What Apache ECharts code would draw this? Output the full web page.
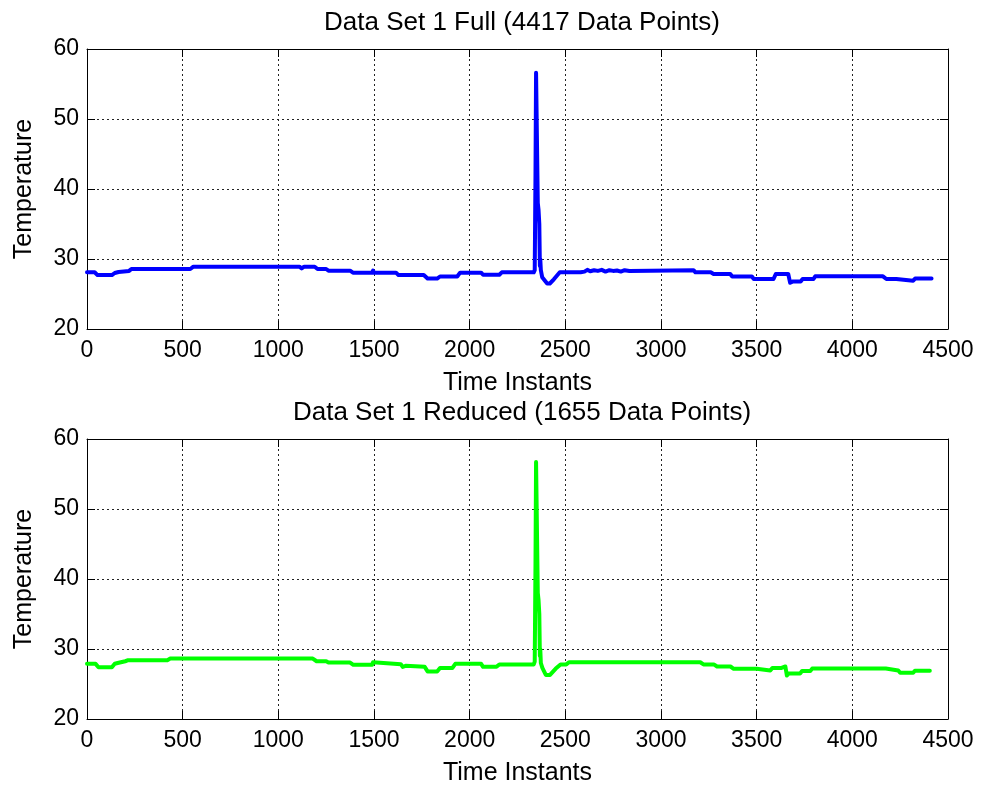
<!DOCTYPE html>
<html>
<head>
<meta charset="utf-8">
<script src="https://cdn.jsdelivr.net/npm/echarts@6/dist/echarts.min.js"></script>
<style>
  html, body { margin: 0; padding: 0; background: #fff; }
  #chart { width: 982px; height: 794px; }
</style>
</head>
<body>
<div id="chart"></div>
<script>
// Full record: time instant and temperature reading
const fullTime = [
  0, 40, 55, 130, 145, 165, 220, 232, 540, 556, 1110, 1122, 1135, 1190, 1205, 1250, 1262, 1375,
  1390, 1490, 1495, 1500, 1615, 1628, 1760, 1780, 1830, 1845, 1935, 1950, 2060, 2070, 2155, 2168,
  2335, 2340, 2344, 2347, 2352, 2356, 2360, 2364, 2367, 2369, 2372, 2379, 2405, 2419, 2440, 2471,
  2580, 2585, 2600, 2615, 2630, 2650, 2670, 2690, 2710, 2730, 2750, 2770, 2790, 2810, 2835, 2845,
  3170, 3180, 3260, 3275, 3362, 3372, 3475, 3485, 3588, 3600, 3665, 3675, 3690, 3730, 3740, 3797,
  3806, 4160, 4178, 4230, 4240, 4318, 4328, 4414
];
const fullTemp = [
  28.1, 28.1, 27.7, 27.7, 28.0, 28.15, 28.3, 28.57, 28.57, 28.9, 28.9, 28.65, 28.9, 28.9, 28.57, 28.57, 28.33, 28.33,
  28.05, 28.05, 28.35, 28.05, 28.05, 27.7, 27.7, 27.2, 27.2, 27.5, 27.5, 28.05, 28.05, 27.75, 27.75, 28.1,
  28.1, 28.4, 42.0, 56.6, 56.6, 38.0, 37.0, 35.0, 29.0, 30.0, 28.4, 27.4, 26.5, 26.5, 27.1, 28.1,
  28.1, 28.35, 28.2, 28.45, 28.25, 28.4, 28.3, 28.45, 28.2, 28.4, 28.3, 28.35, 28.2, 28.4, 28.3, 28.4,
  28.4, 28.1, 28.1, 27.86, 27.86, 27.5, 27.5, 27.14, 27.14, 27.86, 27.86, 26.6, 26.8, 26.8, 27.14, 27.14,
  27.52, 27.52, 27.14, 27.14, 26.9, 26.9, 27.2, 27.2
];

// Reduced record: time instant and temperature reading
const reducedTime = [
  0, 45, 60, 130, 145, 160, 200, 215, 420, 435, 1180, 1200, 1250, 1262, 1375, 1392, 1490, 1495,
  1505, 1640, 1650, 1665, 1675, 1765, 1780, 1830, 1845, 1910, 1925, 2060, 2070, 2140, 2155,
  2335, 2340, 2344, 2347, 2352, 2356, 2360, 2364, 2367, 2369, 2372, 2380, 2398, 2420, 2450, 2475,
  2505, 2519, 3205, 3222, 3276, 3293, 3363, 3380, 3500, 3510, 3571, 3582, 3630, 3640, 3650, 3658,
  3667, 3727, 3737, 3780, 3790, 4175, 4182, 4240, 4250, 4318, 4327, 4405
];
const reducedTemp = [
  27.88, 27.88, 27.4, 27.4, 27.9, 28.0, 28.25, 28.4, 28.4, 28.63, 28.63, 28.25, 28.25, 28.07, 28.07, 27.74, 27.74, 28.1,
  27.83, 27.83, 27.45, 27.6, 27.45, 27.45, 26.8, 26.8, 27.3, 27.3, 27.88, 27.88, 27.45, 27.45, 27.8,
  27.8, 28.2, 42.0, 56.7, 56.7, 38.0, 37.0, 35.0, 29.0, 30.0, 28.0, 27.3, 26.3, 26.3, 27.2, 27.8,
  27.8, 28.1, 28.1, 27.8, 27.8, 27.5, 27.5, 27.17, 27.17, 26.93, 26.93, 27.3, 27.3, 27.5, 27.5, 26.2,
  26.5, 26.5, 26.84, 26.84, 27.2, 27.2, 26.93, 26.93, 26.6, 26.6, 26.9, 26.9
];

// Axis ranges and tick spacing
const xRange = { min: 0, max: 4500, step: 500 };
const yRange = { min: 20, max: 60, step: 10 };

const titles = ['Data Set 1 Full (4417 Data Points)', 'Data Set 1 Reduced (1655 Data Points)'];
const xLabel = 'Time Instants';
const yLabel = 'Temperature';

const FONT = '"Liberation Sans", Arial, Helvetica, sans-serif';
const gridTops = [49, 439];

function pair(xs, ys) {
  return xs.map((x, i) => [x, ys[i]]);
}

const plain = v => String(v);
const frameLine = { show: true, onZero: false, lineStyle: { color: '#000', width: 1 } };
const inTick = { show: true, inside: true, length: 8, lineStyle: { color: '#000', width: 1 } };
const gridDash = { show: true, lineStyle: { color: '#222', width: 1, type: [2, 3] } };

const xAxes = [];
const yAxes = [];
[0, 1].forEach(g => {
  xAxes.push({
    type: 'value', gridIndex: g, position: 'bottom',
    min: xRange.min, max: xRange.max, interval: xRange.step,
    axisLine: frameLine, axisTick: inTick, splitLine: gridDash,
    axisLabel: { color: '#000', fontSize: 23, fontFamily: FONT, margin: 10, formatter: plain },
    name: xLabel, nameLocation: 'middle', nameGap: 42,
    nameTextStyle: { color: '#000', fontSize: 25, fontFamily: FONT }
  });
  xAxes.push({
    type: 'value', gridIndex: g, position: 'top',
    min: xRange.min, max: xRange.max, interval: xRange.step,
    axisLine: frameLine, axisTick: inTick, splitLine: { show: false },
    axisLabel: { show: false }
  });
  yAxes.push({
    type: 'value', gridIndex: g, position: 'left',
    min: yRange.min, max: yRange.max, interval: yRange.step,
    axisLine: frameLine, axisTick: inTick, splitLine: gridDash,
    axisLabel: { color: '#000', fontSize: 23, fontFamily: FONT, margin: 8, formatter: plain },
    name: yLabel, nameLocation: 'middle', nameGap: 50,
    nameTextStyle: { color: '#000', fontSize: 25, fontFamily: FONT }
  });
  yAxes.push({
    type: 'value', gridIndex: g, position: 'right',
    min: yRange.min, max: yRange.max, interval: yRange.step,
    axisLine: frameLine, axisTick: inTick, splitLine: { show: false },
    axisLabel: { show: false }
  });
});

const chart = echarts.init(document.getElementById('chart'), null, { renderer: 'canvas' });
chart.setOption({
  animation: false,
  backgroundColor: '#fff',
  title: titles.map((t, i) => ({
    text: t, left: 517, top: gridTops[i] - 44, textAlign: 'center',
    textStyle: { color: '#000', fontSize: 26, fontWeight: 'normal', fontFamily: FONT }
  })),
  grid: gridTops.map(top => ({ left: 87, top: top, width: 861, height: 280, containLabel: false })),
  xAxis: xAxes,
  yAxis: yAxes,
  series: [
    {
      type: 'line', xAxisIndex: 0, yAxisIndex: 0,
      data: pair(fullTime, fullTemp),
      showSymbol: false, sampling: 'none',
      lineStyle: { color: '#0000ff', width: 4, join: 'round', cap: 'round' }
    },
    {
      type: 'line', xAxisIndex: 2, yAxisIndex: 2,
      data: pair(reducedTime, reducedTemp),
      showSymbol: false, sampling: 'none',
      lineStyle: { color: '#00ff00', width: 4, join: 'round', cap: 'round' }
    }
  ]
});
</script>
</body>
</html>
